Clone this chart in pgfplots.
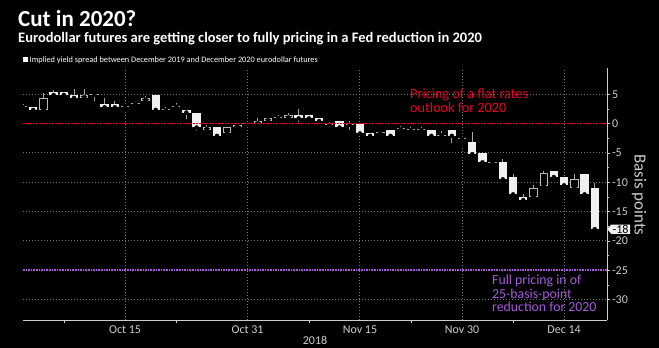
\documentclass[border=0pt]{standalone}
\usepackage{fontspec}
\setmainfont{Carlito}
\usepackage{pgfplots}
\pgfplotsset{compat=1.18}
\usepackage{pgfplotstable}
\usetikzlibrary{shapes.symbols}

\definecolor{tickgray}{RGB}{205,205,205}
\definecolor{gridgray}{RGB}{120,120,120}
\definecolor{wickgray}{RGB}{170,170,170}
\definecolor{hollowgray}{RGB}{185,185,185}
\definecolor{bodywhite}{RGB}{240,240,240}
\definecolor{flatred}{RGB}{235,0,30}
\definecolor{cutpurple}{RGB}{165,90,220}

% down days (close < open): filled bodies
\pgfplotstableread{
x o h l c
1 2.9 2.9 2.35 2.35
3 5.37 5.83 4.46 4.9
4 5.37 5.37 4.46 4.9
5 4.9 5.85 4.4 4.4
8 3.37 4.3 2.55 2.8
9 3.37 3.9 2.8 2.8
13 4.9 4.9 1.96 2.35
16 2.4 2.4 0.4 1.9
17 1.9 1.9 -1.56 -0.65
19 -0.65 -0.65 -2.08 -2.08
27 1.45 2.47 -0.14 0.9
28 1.45 1.45 0.9 0.9
29 0.9 0.9 0.45 0.45
31 0.43 0.43 -0.65 -0.65
33 -0.1 -0.1 -1.67 -1.67
34 -1.56 -1.56 -2.08 -2.08
36 -1.1 -1.1 -2.08 -2.08
40 -1.1 -1.1 -2.08 -2.08
42 -1.1 -1.1 -3.66 -2.08
44 -3.1 -1.5 -5.5 -5.2
45 -5.08 -5.08 -6.6 -6.6
47 -6.5 -6.05 -10.0 -9.5
48 -9.06 -8.6 -12.06 -12.06
49 -12.57 -12.0 -13.5 -13.03
52 -8.04 -8.04 -9.11 -9.11
53 -9.11 -9.11 -10.53 -10.53
55 -8.6 -8.6 -12.6 -12.06
56 -11.04 -10.08 -18.0 -18.0
}\down

% up days (close > open): hollow bodies
\pgfplotstableread{
x o h l c
2 2.35 5.3 2.35 4.35
6 4.35 5.85 4.35 4.9
12 3.95 4.77 3.95 4.35
18 -1.05 -0.3 -1.7 -0.6
20 -1.67 -0.65 -2.0 -0.65
21 -0.65 -0.2 -0.65 -0.2
23 -0.1 0.9 -0.1 0.43
24 0.43 1.0 0.43 1.0
26 0.9 1.9 0.9 1.45
50 -12.57 -10.5 -12.57 -11.04
51 -10.6 -8.0 -10.6 -8.49
54 -11.04 -8.6 -11.04 -9.5
}\up

% unchanged days: crosses
\pgfplotstableread{
x o h l c
0 2.93 3.4 2.8 2.93
7 4.97 5.3 3.44 4.97
10 2.93 3.1 2.6 2.93
11 3.5 3.9 3.35 3.5
14 2.4 2.86 1.74 2.4
15 2.98 3.5 2.5 2.98
22 -0.05 0.1 -0.2 -0.05
25 1.0 1.4 0.5 1.0
30 -0.1 0.3 -0.43 -0.1
32 -0.1 0.43 -1.4 -0.1
35 -1.56 -1.22 -2.0 -1.56
37 -0.82 -0.4 -1.56 -0.82
38 -1.0 -0.54 -1.22 -1.0
39 -1.0 -0.54 -1.22 -1.0
41 -2.0 -1.3 -2.0 -2.0
43 -2.5 -2.5 -3.37 -2.5
46 -6.6 -6.6 -6.6 -6.6
}\flat

% reference levels
\pgfplotstableread{
x flat cut
0 0 -25
57.2 0 -25
}\levels

\begin{document}
\begin{tikzpicture}
\fill[black] (0pt,0pt) rectangle (659pt,348pt);
\useasboundingbox (0pt,0pt) rectangle (659pt,348pt);

\node[anchor=base west, inner sep=0pt, text=white, font=\fontsize{23}{26}\selectfont\bfseries] at (18pt,321pt) {Cut in 2020?};
\node[anchor=base west, inner sep=0pt, text=white, font=\fontsize{14.5}{16}\selectfont\bfseries] at (18pt,305.5pt) {Eurodollar futures are getting closer to fully pricing in a Fed reduction in 2020};
\fill[white] (22.5pt,286pt) rectangle (27.5pt,291pt);
\node[anchor=base west, inner sep=0pt, text=white, font=\fontsize{8.3}{10}\selectfont] at (29.5pt,285pt) {Implied yield spread between December 2019 and December 2020 eurodollar futures};

\begin{axis}[
  at={(23pt,28pt)}, anchor=south west,
  scale only axis, width=584pt, height=252pt,
  xmin=0, xmax=57.2, ymin=-33.5, ymax=9.5,
  axis x line*=bottom, axis y line*=right,
  axis line style={draw=tickgray, line width=0.8pt},
  xtick={10,22,33,43,53},
  xticklabels={Oct 15,Oct 31,Nov 15,Nov 30,Dec 14},
  xtick style={draw=none},
  extra x ticks={4,15,28,38,48},
  extra x tick labels={},
  extra x tick style={xtick style={draw=tickgray, line width=0.6pt}},
  ytick={-30,-25,-20,-15,-10,-5,0,5},
  yticklabels={-30,-25,-20,-15,-10,-5,0,5},
  minor y tick num=1,
  ytick style={draw=tickgray, line width=0.6pt},
  tick align=outside,
  major tick length=3pt, minor tick length=2pt,
  xmajorgrids=false, ymajorgrids=false,
  xticklabel style={font=\fontsize{12}{14}\selectfont, text=tickgray, yshift=1pt},
  yticklabel style={font=\fontsize{12}{14}\selectfont, text=tickgray, anchor=west, xshift=-1.5pt},
  clip mode=individual,
  gridline/.style={gridgray, line width=1pt, dash pattern=on 1pt off 2pt},
]
% vertical date grid lines
\addplot[gridline] coordinates {(10,-33.5) (10,9.5)};
\addplot[gridline] coordinates {(22,-33.5) (22,9.5)};
\addplot[gridline] coordinates {(33,-33.5) (33,9.5)};
\addplot[gridline] coordinates {(43,-33.5) (43,9.5)};
\addplot[gridline] coordinates {(53,-33.5) (53,9.5)};
% horizontal grid lines
\addplot[gridline] coordinates {(0,5) (57.2,5)};
\addplot[gridline] coordinates {(0,-5) (57.2,-5)};
\addplot[gridline] coordinates {(0,-10) (57.2,-10)};
\addplot[gridline] coordinates {(0,-15) (57.2,-15)};
\addplot[gridline] coordinates {(0,-20) (57.2,-20)};
\addplot[gridline] coordinates {(0,-30) (57.2,-30)};

% wicks
\addplot[only marks, mark=none, error bars/.cd, y dir=plus, y explicit, error mark=none,
  error bar style={draw=wickgray, line width=1pt}]
  table[x=x, y=l, y error plus expr=\thisrow{h}-\thisrow{l}] {\down};
\addplot[only marks, mark=none, error bars/.cd, y dir=plus, y explicit, error mark=none,
  error bar style={draw=wickgray, line width=1pt}]
  table[x=x, y=l, y error plus expr=\thisrow{h}-\thisrow{l}] {\up};
\addplot[only marks, mark=none, error bars/.cd, y dir=plus, y explicit, error mark=none,
  error bar style={draw=wickgray, line width=1pt}]
  table[x=x, y=l, y error plus expr=\thisrow{h}-\thisrow{l}] {\flat};

% filled bodies
\addplot[only marks, mark=none, error bars/.cd, y dir=plus, y explicit, error mark=none,
  error bar style={draw=bodywhite, line width=8.4pt}]
  table[x=x, y=c, y error plus expr=\thisrow{o}-\thisrow{c}] {\down};
% hollow bodies
\addplot[only marks, mark=none, error bars/.cd, y dir=plus, y explicit, error mark=none,
  error bar style={draw=hollowgray, line width=8.4pt}]
  table[x=x, y=o, y error plus expr=\thisrow{c}-\thisrow{o}] {\up};
\addplot[only marks, mark=none, error bars/.cd, y dir=plus, y explicit, error mark=none,
  error bar style={draw=black, line width=6.4pt}]
  table[x=x, y expr=\thisrow{o}+0.17, y error plus expr=\thisrow{c}-\thisrow{o}-0.34] {\up};
% crosses
\addplot[only marks, mark=none, error bars/.cd, y dir=plus, y explicit, error mark=none,
  error bar style={draw=wickgray, line width=8.4pt}]
  table[x=x, y expr=\thisrow{o}-0.09, y error plus expr=0.18] {\flat};

% reference lines, drawn over the candles
\addplot[color=flatred, draw=flatred, line width=1.5pt, dash pattern=on 2.4pt off 0.8pt, mark=none] table[x=x, y=flat] {\levels};
\addplot[color=cutpurple, draw=cutpurple, line width=1.5pt, dash pattern=on 1.6pt off 1pt, mark=none] table[x=x, y=cut] {\levels};

% last value tag
\node[signal, signal to=west, signal pointer angle=100, fill=bodywhite, text=black,
  inner xsep=1.5pt, inner ysep=0.5pt, anchor=west, font=\fontsize{12}{13}\selectfont]
  at (axis cs:57.2,-18) {-18};
\end{axis}

\node[anchor=base west, inner sep=0pt, text=flatred, font=\fontsize{14.2}{16}\selectfont] at (410pt,249pt) {Pricing of a flat rates};
\node[anchor=base west, inner sep=0pt, text=flatred, font=\fontsize{14.2}{16}\selectfont] at (410pt,235.5pt) {outlook for 2020};

\node[anchor=base west, inner sep=0pt, text=cutpurple, font=\fontsize{13.8}{16}\selectfont] at (492pt,63pt) {Full pricing in of};
\node[anchor=base west, inner sep=0pt, text=cutpurple, font=\fontsize{13.8}{16}\selectfont] at (492pt,49.5pt) {25-basis-point};
\node[anchor=base west, inner sep=0pt, text=cutpurple, font=\fontsize{13.8}{16}\selectfont] at (492pt,36pt) {reduction for 2020};

\node[rotate=-90, text=tickgray, font=\fontsize{17}{19}\selectfont] at (639pt,153pt) {Basis points};
\node[text=tickgray, font=\fontsize{12}{14}\selectfont] at (315pt,8pt) {2018};
\end{tikzpicture}
\end{document}
